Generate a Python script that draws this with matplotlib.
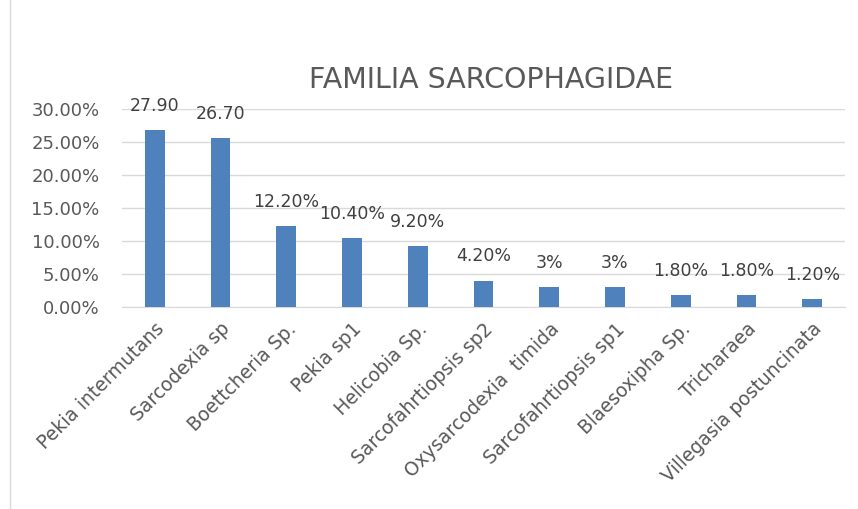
import matplotlib.pyplot as plt
from matplotlib.lines import Line2D
from matplotlib.ticker import FuncFormatter

species = ['Pekia intermutans', 'Sarcodexia sp', 'Boettcheria Sp.', 'Pekia sp1',
           'Helicobia Sp.', 'Sarcofahrtiopsis sp2', 'Oxysarcodexia  timida',
           'Sarcofahrtiopsis sp1', 'Blaesoxipha Sp.', 'Tricharaea',
           'Villegasia postuncinata']
# bar heights in percent (as drawn)
percent = [26.8, 25.6, 12.2, 10.4, 9.2, 4.0, 3.0, 3.0, 1.8, 1.8, 1.2]
# labels as written on the chart
value_labels = ['27.90', '26.70', '12.20%', '10.40%', '9.20%', '4.20%', '3%', '3%',
                '1.80%', '1.80%', '1.20%']
yticks = [0, 5, 10, 15, 20, 25, 30]

plt.rcParams['font.family'] = ['DejaVu Sans']

fig = plt.figure(figsize=(8.58, 5.09), dpi=100)
ax = fig.add_axes([0.142, 0.397, 0.843, 0.389])

x = range(len(species))
bars = ax.bar(x, percent, width=0.3, color='#4F81BD', zorder=3)

for xi, val, lab in zip(x, percent, value_labels):
    ax.annotate(lab, (xi, val), xytext=(0, 11), textcoords='offset points',
                ha='center', va='bottom', fontsize=12.5, color='#404040')

ax.set_xlim(-0.5, len(species) - 0.5)
ax.set_ylim(0, 30)
ax.set_yticks(yticks)
ax.yaxis.set_major_formatter(FuncFormatter(lambda v, p: '%.2f%%' % v))
ax.set_xticks(list(x))
ax.set_xticklabels(species, rotation=45, ha='right', rotation_mode='anchor')

ax.grid(axis='y', color='#D9D9D9', linewidth=1, zorder=0)
for side in ['top', 'right', 'left']:
    ax.spines[side].set_visible(False)
ax.spines['bottom'].set_color('#D9D9D9')
ax.tick_params(axis='both', length=0, colors='#595959')
ax.tick_params(axis='y', pad=16, labelsize=13)
ax.tick_params(axis='x', pad=9, labelsize=13.5)

ax.set_title('FAMILIA SARCOPHAGIDAE', fontsize=20.5, color='#595959', pad=15,
             x=0.51)

# chart area border (left edge visible)
fig.add_artist(Line2D([10 / 858, 10 / 858], [0, 1], color='#D9D9D9', linewidth=1))

fig.savefig('out.png', dpi=100)
